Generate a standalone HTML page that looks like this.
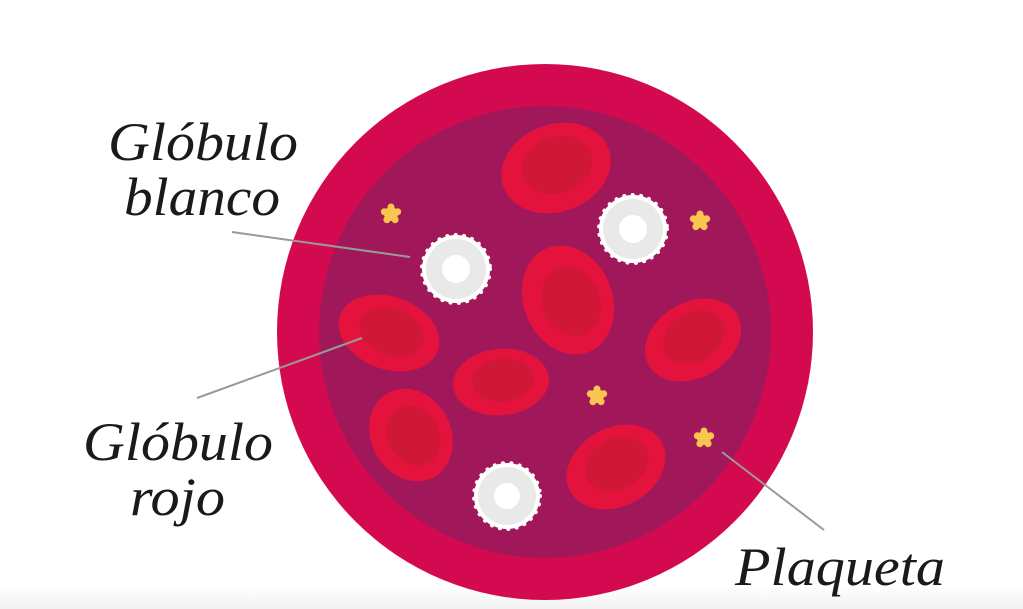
<!DOCTYPE html><html><head><style>body{margin:0;background:#fff}svg{display:block}</style></head><body>
<svg width="1023" height="609" viewBox="0 0 1023 609">
<defs><linearGradient id="g" x1="0" y1="0" x2="0" y2="1"><stop offset="0" stop-color="#fff"/><stop offset="1" stop-color="#f2f2f2"/></linearGradient>
<g id="rbc"><ellipse rx="50" ry="37" fill="#e3133e"/><ellipse rx="32" ry="24" cx="2" cy="-2" fill="#d01736"/></g>
<g id="p"><circle r="7" fill="#f9c54e"/><g fill="#f9c54e"><circle cx="0" cy="-7" r="3.5"/><circle cx="6.7" cy="-2.2" r="3.5"/><circle cx="4.1" cy="5.7" r="3.5"/><circle cx="-4.1" cy="5.7" r="3.5"/><circle cx="-6.7" cy="-2.2" r="3.5"/></g></g>
</defs>
<rect x="0" y="585" width="1023" height="24" fill="url(#g)"/>
<circle cx="545" cy="332" r="268" fill="#d40a50"/>
<circle cx="545" cy="332" r="226" fill="#a0185a"/>
<g transform="translate(556,168) rotate(-20) scale(1.12,1.18)"><use href="#rbc"/></g>
<g transform="translate(568,300) rotate(68) scale(1.12,1.2)"><use href="#rbc"/></g>
<g transform="translate(389,333) rotate(20) scale(1.04,0.98)"><use href="#rbc"/></g>
<g transform="translate(501,382) rotate(-5) scale(0.96,0.9)"><use href="#rbc"/></g>
<g transform="translate(411,435) rotate(62) scale(0.96,1.08)"><use href="#rbc"/></g>
<g transform="translate(693,340) rotate(-30) scale(1.02,1.02)"><use href="#rbc"/></g>
<g transform="translate(616,467) rotate(-28) scale(1.04,1.06)"><use href="#rbc"/></g>
<g stroke="#fff" stroke-width="4" stroke-dasharray="0.1 8.3" stroke-linecap="round" fill="none">
<circle cx="456" cy="269" r="34"/><circle cx="633" cy="229" r="34"/><circle cx="507" cy="496" r="33"/></g>
<g><circle cx="456" cy="269" r="34" fill="#fff"/><circle cx="456" cy="269" r="30" fill="#e9e9e9"/><circle cx="456" cy="269" r="14" fill="#fff"/>
<circle cx="633" cy="229" r="34" fill="#fff"/><circle cx="633" cy="229" r="30" fill="#e9e9e9"/><circle cx="633" cy="229" r="14" fill="#fff"/>
<circle cx="507" cy="496" r="33" fill="#fff"/><circle cx="507" cy="496" r="29" fill="#e9e9e9"/><circle cx="507" cy="496" r="13" fill="#fff"/></g>
<use href="#p" x="391" y="214"/><use href="#p" x="700" y="221"/><use href="#p" x="597" y="396"/><use href="#p" x="704" y="438"/>
<g stroke="#999" stroke-width="2"><line x1="232" y1="232" x2="410" y2="257"/><line x1="197" y1="398" x2="362" y2="338"/><line x1="722" y1="452" x2="824" y2="530"/></g>
<g font-family="Liberation Serif, serif" font-style="italic" font-size="54" fill="#1a1a1a" lengthAdjust="spacingAndGlyphs">
<text x="108" y="160" textLength="190" lengthAdjust="spacingAndGlyphs">Glóbulo</text><text x="124" y="215" textLength="156" lengthAdjust="spacingAndGlyphs">blanco</text>
<text x="83" y="460" textLength="190" lengthAdjust="spacingAndGlyphs">Glóbulo</text><text x="130" y="515" textLength="95" lengthAdjust="spacingAndGlyphs">rojo</text>
<text x="735" y="585" textLength="210" lengthAdjust="spacingAndGlyphs">Plaqueta</text></g>
</svg></body></html>
